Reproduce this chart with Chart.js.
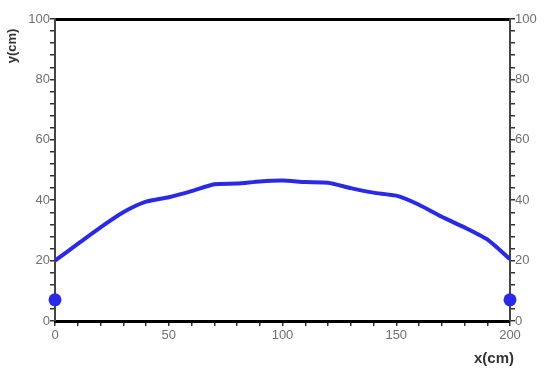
<!DOCTYPE html>
<html>
<head>
<meta charset="utf-8">
<script src="https://cdn.jsdelivr.net/npm/chart.js@4.4.0/dist/chart.umd.min.js"></script>
<style>
  html, body { margin: 0; padding: 0; background: #fff; }
  #wrap { width: 545px; height: 372px; position: relative; }
</style>
</head>
<body>
<div id="wrap"><canvas id="profile"></canvas></div>
<script>
// surface profile, x in cm
const xs = [0, 10, 20, 30, 40, 50, 60, 70, 80, 90, 100, 110, 120, 130, 140, 150, 160, 170, 180, 190, 200];
const ys = [20, 25.5, 31, 36, 39.5, 41, 43, 45.3, 45.5, 46.2, 46.5, 46, 45.8, 44, 42.5, 41.5, 38.5, 34.5, 31, 27, 20.5];

// the two end markers
const markerX = [0, 200];
const markerY = [7, 7];

const xLabels = [0, 50, 100, 150, 200];
const yLabels = [0, 20, 40, 60, 80, 100];

const tickFont = { family: 'Liberation Sans', size: 13 };
const tickGray = '#707070';

function fixSize(w, h) {
  return function (scale) {
    if (w != null) scale.width = w;
    if (h != null) scale.height = h;
  };
}

// axis captions drawn on the canvas
const captions = {
  id: 'captions',
  afterDraw(chart) {
    const c = chart.ctx;
    c.save();
    c.fillStyle = '#333';
    c.textBaseline = 'middle';
    c.font = 'bold 15px "Liberation Sans"';
    c.textAlign = 'right';
    c.fillText('x(cm)', 514, 359);
    c.font = 'bold 13px "Liberation Sans"';
    c.translate(12, 46);
    c.rotate(-Math.PI / 2);
    c.textAlign = 'center';
    c.fillText('y(cm)', 0, 0);
    c.restore();
  }
};

new Chart(document.getElementById('profile'), {
  type: 'line',
  data: {
    datasets: [
      {
        data: xs.map((x, i) => ({ x, y: ys[i] })),
        borderColor: '#2a2ae6',
        borderWidth: 4,
        pointRadius: 0,
        tension: 0.2,
        xAxisID: 'x',
        yAxisID: 'y'
      },
      {
        data: markerX.map((x, i) => ({ x, y: markerY[i] })),
        showLine: false,
        pointRadius: 6.5,
        pointBackgroundColor: '#2a2ae6',
        pointBorderWidth: 0,
        clip: false,
        xAxisID: 'x',
        yAxisID: 'y'
      }
    ]
  },
  options: {
    responsive: true,
    maintainAspectRatio: false,
    animation: false,
    layout: { padding: 0 },
    plugins: { legend: { display: false }, tooltip: { enabled: false } },
    scales: {
      x: {
        type: 'linear', position: 'bottom', min: 0, max: 200,
        afterFit: fixSize(null, 51),
        border: { color: '#000', width: 3 },
        grid: { drawOnChartArea: false, tickLength: 5, color: '#333', lineWidth: 1.5 },
        ticks: {
          stepSize: 10, autoSkip: false, maxRotation: 0, padding: 2,
          color: tickGray, font: tickFont,
          callback: v => xLabels.includes(v) ? String(v) : ''
        }
      },
      x2: {
        type: 'linear', position: 'top', min: 0, max: 200,
        afterFit: fixSize(null, 19),
        border: { color: '#000', width: 3 },
        grid: { drawOnChartArea: false, drawTicks: false },
        ticks: { display: false }
      },
      y: {
        type: 'linear', position: 'left', min: 0, max: 100,
        afterFit: fixSize(55, null),
        border: { color: '#444', width: 2 },
        grid: { drawOnChartArea: false, tickLength: 5, color: '#333', lineWidth: 1.5 },
        ticks: {
          stepSize: 4, autoSkip: false, padding: 0,
          color: tickGray, font: tickFont,
          callback: v => yLabels.includes(v) ? String(v) : ''
        }
      },
      y2: {
        type: 'linear', position: 'right', min: 0, max: 100,
        afterFit: fixSize(35, null),
        border: { color: '#444', width: 2 },
        grid: { drawOnChartArea: false, tickLength: 5, color: '#333', lineWidth: 1.5 },
        ticks: {
          stepSize: 4, autoSkip: false, padding: 0,
          color: tickGray, font: tickFont,
          callback: v => yLabels.includes(v) ? String(v) : ''
        }
      }
    }
  },
  plugins: [captions]
});
</script>
</body>
</html>
